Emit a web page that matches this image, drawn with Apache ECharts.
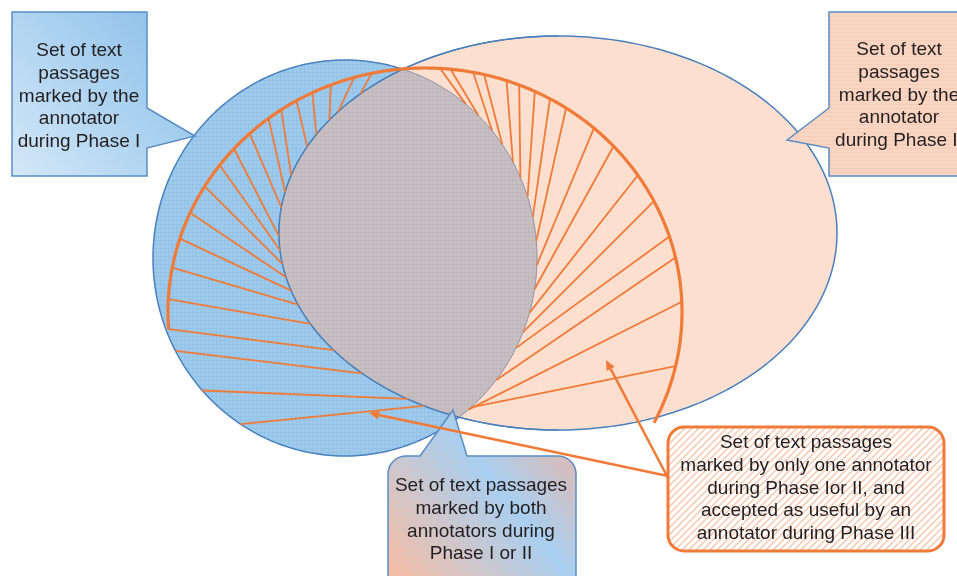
<!DOCTYPE html>
<html>
<head>
<meta charset="utf-8">
<script src="https://cdn.jsdelivr.net/npm/echarts@6/dist/echarts.min.js"></script>
<style>
  html, body { margin: 0; padding: 0; background: #fff; }
  #chart { width: 957px; height: 576px; }
</style>
</head>
<body>
<div id="chart"></div>
<script>
// --- data (axis units: x 0..957, y 0..576 downward) ---
const setNames = ['Marked during Phase I', 'Marked during Phase II'];
const setCx = [345, 558];
const setCy = [258, 233];
const setRx = [192, 279];
const setRy = [198, 197];

// passages accepted in Phase III (orange boundary)
const acceptedCenter = [425, 312];
const acceptedRadii = [257, 244];
const acceptedSpan = [184, -27];

// hatch strokes: start angle (on the orange boundary, or on set I edge) -> end angle on the other set's edge
const hatchLeftStart = [102, 106, 111.5, 116, 120, 124, 127.5, 133, 138, 143, 149, 156, 162.5, 169.5, 177, 184];
const hatchLeftEnd = [135, 142, 145, 150, 154, 163, 168, 172.5, 181, 185, 189, 193, 197, 201.3, 207.5, 216.5];
const hatchLowerStart = [208, 222, 237];
const hatchLowerEnd = [225.4, 237.4, 241.3];
const hatchRightStart = [86.6, 84.3, 79.2, 76.7, 71.5, 68.5, 64.7, 60.9, 56.7, 48.9, 42.8, 34.1, 27, 18, 12.9, 2.4, -12.8];
const hatchRightEnd = [51, 46, 40, 35, 29, 24, 18, 12, 5, -2, -9, -16, -22, -27, -38, -50, -49];

const calloutPhaseI = ['Set of text', 'passages', 'marked by the', 'annotator', 'during Phase I'];
const calloutPhaseII = ['Set of text', 'passages', 'marked by the', 'annotator', 'during Phase II'];
const calloutBoth = ['Set of text passages', 'marked by both', 'annotators during', 'Phase I or II'];
const calloutAccepted = ['Set of text passages', 'marked by only one annotator', 'during Phase Ior II, and',
  'accepted as useful by an', 'annotator during Phase III'];

const ORANGE = '#f07a38';
const BLUE_LINE = '#4a80bd';
const FONT = '19px "Liberation Sans", Arial, sans-serif';

function makePattern(bg, line, size, mode, lw) {
  const c = document.createElement('canvas');
  c.width = c.height = size;
  const g = c.getContext('2d');
  g.fillStyle = bg;
  g.fillRect(0, 0, size, size);
  g.strokeStyle = line;
  g.lineWidth = lw || 1;
  g.beginPath();
  if (mode === 'diag') {
    g.moveTo(0, size); g.lineTo(size, 0);
    g.moveTo(-size / 2, size / 2); g.lineTo(size / 2, -size / 2);
    g.moveTo(size / 2, size * 1.5); g.lineTo(size * 1.5, size / 2);
  } else if (mode === 'h') {
    g.moveTo(0, 0.5); g.lineTo(size, 0.5);
  } else {
    g.moveTo(0, 0.5); g.lineTo(size, 0.5);
    g.moveTo(0.5, 0); g.lineTo(0.5, size);
  }
  g.stroke();
  return { image: c, repeat: 'repeat' };
}

function linear(x, y, x2, y2, stops) {
  return { type: 'linear', x: x, y: y, x2: x2, y2: y2, global: false,
    colorStops: stops.map(s => ({ offset: s[0], color: s[1] })) };
}

function ellPt(cx, cy, rx, ry, deg) {
  const a = deg * Math.PI / 180;
  return [cx + rx * Math.cos(a), cy - ry * Math.sin(a)];
}
function setPt(i, deg) { return ellPt(setCx[i], setCy[i], setRx[i], setRy[i], deg); }
function inSet(i, p) {
  const dx = (p[0] - setCx[i]) / setRx[i], dy = (p[1] - setCy[i]) / setRy[i];
  return dx * dx + dy * dy < 1;
}
function ellPoints(cx, cy, rx, ry, a0, a1, step) {
  const pts = [];
  const n = Math.max(2, Math.ceil(Math.abs(a1 - a0) / step));
  for (let k = 0; k <= n; k++) pts.push(ellPt(cx, cy, rx, ry, a0 + (a1 - a0) * k / n));
  return pts;
}

const setFills = [makePattern('#9ecbec', '#95c3e7', 4, 'grid'), '#fcdfcf'];

const hatchData = hatchLeftStart.map((a, i) => [a, hatchLeftEnd[i], 0])
  .concat(hatchLowerStart.map((a, i) => [a, hatchLowerEnd[i], 1]))
  .concat(hatchRightStart.map((a, i) => [a, hatchRightEnd[i], 2]));

const chart = echarts.init(document.getElementById('chart'));

const option = {
  animation: false,
  grid: { left: 0, right: 0, top: 0, bottom: 0 },
  xAxis: { type: 'value', min: 0, max: 957, show: false },
  yAxis: { type: 'value', min: 0, max: 576, inverse: true, show: false },
  series: [
    {
      type: 'custom', name: 'sets', z: 2,
      data: setNames.map((n, i) => ({ name: n, value: [setCx[i], setCy[i], setRx[i], setRy[i]] })),
      renderItem: function (params, api) {
        const pts = ellPoints(api.value(0), api.value(1), api.value(2), api.value(3), 0, 360, 1)
          .map(p => api.coord(p));
        return {
          type: 'polygon', z2: params.dataIndex,
          shape: { points: pts },
          style: { fill: setFills[params.dataIndex], stroke: BLUE_LINE, lineWidth: 1.5 }
        };
      }
    },
    {
      type: 'custom', name: 'both', z: 3,
      data: [{ value: [0, 0] }],
      renderItem: function (params, api) {
        const a = ellPoints(setCx[0], setCy[0], setRx[0], setRy[0], -90, 90, 0.5).filter(p => inSet(1, p));
        const b = ellPoints(setCx[1], setCy[1], setRx[1], setRy[1], 90, 270, 0.5).filter(p => inSet(0, p));
        const pts = a.concat(b).map(p => api.coord(p));
        return {
          type: 'polygon', shape: { points: pts },
          style: { fill: makePattern('#c7bfc2', '#c0b8bc', 4, 'grid'), stroke: '#8a91ad', lineWidth: 1 }
        };
      }
    },
    {
      type: 'custom', name: 'outline II', z: 4,
      data: [{ value: [setCx[1], setCy[1], setRx[1], setRy[1]] }],
      renderItem: function (params, api) {
        const pts = ellPoints(api.value(0), api.value(1), api.value(2), api.value(3), 90, 270, 1)
          .map(p => api.coord(p));
        return { type: 'polyline', shape: { points: pts }, style: { fill: null, stroke: BLUE_LINE, lineWidth: 1.3 } };
      }
    },
    {
      type: 'custom', name: 'accepted hatch', z: 5,
      data: hatchData,
      renderItem: function (params, api) {
        const a0 = api.value(0), a1 = api.value(1), kind = api.value(2);
        const s = kind === 1
          ? setPt(0, a0)
          : ellPt(acceptedCenter[0], acceptedCenter[1], acceptedRadii[0], acceptedRadii[1], a0);
        const e = kind === 2 ? setPt(0, a1) : setPt(1, a1);
        const p = api.coord(s), q = api.coord(e);
        return {
          type: 'line', shape: { x1: p[0], y1: p[1], x2: q[0], y2: q[1] },
          style: { stroke: ORANGE, lineWidth: 1.8 }
        };
      }
    },
    {
      type: 'custom', name: 'accepted', z: 6,
      data: [{ value: [acceptedCenter[0], acceptedCenter[1], acceptedRadii[0], acceptedRadii[1], acceptedSpan[0], acceptedSpan[1]] }],
      renderItem: function (params, api) {
        const pts = ellPoints(api.value(0), api.value(1), api.value(2), api.value(3), api.value(4), api.value(5), 0.5)
          .map(p => api.coord(p));
        return { type: 'polyline', shape: { points: pts }, style: { fill: null, stroke: ORANGE, lineWidth: 3.2 } };
      }
    }
  ],
  graphic: { elements: buildCallouts() }
};

function arrow(x1, y1, x2, y2) {
  const L = Math.hypot(x2 - x1, y2 - y1), ux = (x2 - x1) / L, uy = (y2 - y1) / L;
  const bx = x2 - ux * 10, by = y2 - uy * 10;
  return [
    { type: 'line', z: 30, shape: { x1: x1, y1: y1, x2: bx, y2: by }, style: { stroke: ORANGE, lineWidth: 2.5 } },
    { type: 'polygon', z: 30, shape: { points: [[x2, y2], [bx - uy * 4.5, by + ux * 4.5], [bx + uy * 4.5, by - ux * 4.5]] },
      style: { fill: ORANGE } }
  ];
}

function label(lines, x, y) {
  return {
    type: 'text', z: 21, x: x, y: y,
    style: {
      text: lines.join('\n'), font: FONT, fill: '#231f20',
      align: 'center', textAlign: 'center', verticalAlign: 'top', textVerticalAlign: 'top', lineHeight: 22.75
    }
  };
}

// rounded box with a pointer rising from its top edge
function pointerBox(x0, y0, x1, y1, r, px0, tip, px1) {
  const pts = [[x0 + r, y0], [px0, y0], tip, [px1, y0], [x1 - r, y0]];
  for (let a = -90; a <= 0; a += 10) pts.push([x1 - r + r * Math.cos(a * Math.PI / 180), y0 + r + r * Math.sin(a * Math.PI / 180)]);
  pts.push([x1, y1], [x0, y1]);
  for (let a = 180; a <= 270; a += 10) pts.push([x0 + r + r * Math.cos(a * Math.PI / 180), y0 + r + r * Math.sin(a * Math.PI / 180)]);
  return pts;
}

function buildCallouts() {
  return [
    { type: 'polygon', z: 20, shape: { points: [[12, 12], [147, 12], [147, 108], [195, 136], [147, 148], [147, 176], [12, 176]] },
      style: { fill: linear(1, 0, 0, 1, [[0, '#86bde8'], [1, '#d4e8f8']]), stroke: '#5a8dc3', lineWidth: 1.5 } },
    label(calloutPhaseI, 79, 39.6),
    { type: 'polygon', z: 20, shape: { points: [[829, 12], [970, 12], [970, 176], [829, 176], [829, 148], [787, 140], [829, 108]] },
      style: { fill: makePattern('#f9d5c2', '#f5ccb8', 4, 'h'), stroke: '#5a8dc3', lineWidth: 1.5 } },
    label(calloutPhaseII, 899, 38.6),
    { type: 'polygon', z: 20, shape: { points: pointerBox(388, 456, 576, 600, 18, 420, [453, 410], 467) },
      style: { fill: linear(1, 0, 0, 0.8, [[0, '#f1b39e'], [0.45, '#a9cff0'], [1, '#f3bea8']]), stroke: '#5a8dc3', lineWidth: 1.5 } },
    label(calloutBoth, 481, 474.6),
    { type: 'rect', z: 20, shape: { x: 668, y: 427, width: 276, height: 124, r: 16 },
      style: { fill: makePattern('#ffffff', '#f8c4aa', 7, 'diag', 1.4), stroke: ORANGE, lineWidth: 3 } },
    label(calloutAccepted, 806, 431.6)
  ].concat(arrow(668, 476, 369, 413), arrow(668, 478, 606, 360));
}

chart.setOption(option);
</script>
</body>
</html>
